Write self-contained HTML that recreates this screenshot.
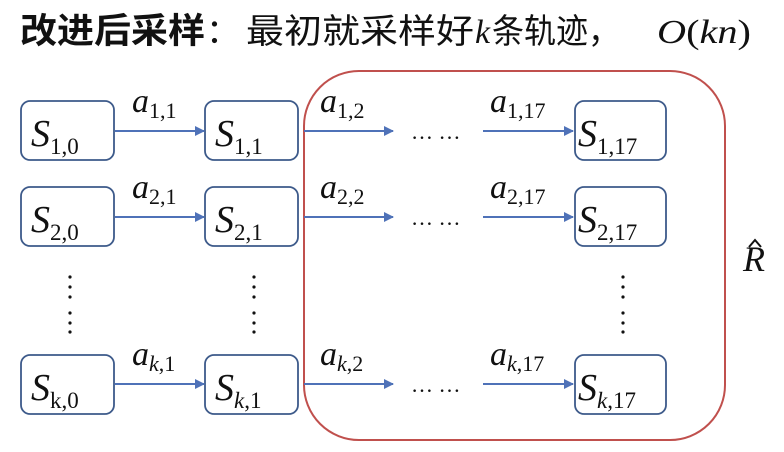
<!DOCTYPE html>
<html><head><meta charset="utf-8"><style>
html,body{margin:0;padding:0;background:#fff;width:784px;height:452px;overflow:hidden}
svg text{font-family:"Liberation Serif","Noto Serif CJK SC",serif}
.cj{font-family:"Liberation Sans","Noto Sans CJK SC",sans-serif}
</style></head><body>
<svg width="784" height="452" viewBox="0 0 784 452" xmlns="http://www.w3.org/2000/svg">
<defs><marker id="ar" markerWidth="10" markerHeight="10" refX="9" refY="5" orient="auto" markerUnits="userSpaceOnUse"><path d="M0,0 L10,5 L0,10 z" fill="#4f72b8"/></marker></defs>
<text class="cj" x="20" y="43" font-size="35" font-weight="bold" fill="#111" textLength="185" lengthAdjust="spacingAndGlyphs">改进后采样</text>
<text class="cj" x="206" y="43" font-size="34" fill="#111">：</text>
<text class="cj" x="246" y="43" font-size="34" fill="#111" textLength="228" lengthAdjust="spacingAndGlyphs">最初就采样好</text>
<text x="475" y="43" font-size="34" font-style="italic" fill="#111">k</text>
<text class="cj" x="492" y="43" font-size="34" fill="#111" textLength="128" lengthAdjust="spacingAndGlyphs">条轨迹，</text>
<text x="657" y="43" font-size="34" font-style="italic" fill="#111" textLength="94" lengthAdjust="spacingAndGlyphs">O<tspan font-style="normal">(</tspan>kn<tspan font-style="normal">)</tspan></text>
<rect x="304" y="71" width="421" height="369" rx="55" fill="none" stroke="#c0504d" stroke-width="2"/>
<g fill="none" stroke="#3d5a8a" stroke-width="1.8">
<rect x="21" y="101" width="93" height="59" rx="9"/><rect x="205" y="101" width="93" height="59" rx="9"/><rect x="575" y="101" width="91" height="59" rx="9"/>
<rect x="21" y="187" width="93" height="59" rx="9"/><rect x="205" y="187" width="93" height="59" rx="9"/><rect x="575" y="187" width="91" height="59" rx="9"/>
<rect x="21" y="355" width="93" height="59" rx="9"/><rect x="205" y="355" width="93" height="59" rx="9"/><rect x="575" y="355" width="91" height="59" rx="9"/>
</g>
<g stroke="#4f72b8" stroke-width="2" marker-end="url(#ar)">
<line x1="115" y1="131" x2="204" y2="131"/><line x1="304" y1="131" x2="393" y2="131"/><line x1="483" y1="131" x2="573" y2="131"/>
<line x1="115" y1="217" x2="204" y2="217"/><line x1="304" y1="217" x2="393" y2="217"/><line x1="483" y1="217" x2="573" y2="217"/>
<line x1="115" y1="384" x2="204" y2="384"/><line x1="304" y1="384" x2="393" y2="384"/><line x1="483" y1="384" x2="573" y2="384"/>
</g>
<g font-size="38" font-style="italic" fill="#111">
<text x="31" y="146">S<tspan font-size="23" font-style="normal" dy="8">1,0</tspan></text>
<text x="215" y="146">S<tspan font-size="23" font-style="normal" dy="8">1,1</tspan></text>
<text x="578" y="146">S<tspan font-size="23" font-style="normal" dy="8">1,17</tspan></text>
<text x="31" y="232">S<tspan font-size="23" font-style="normal" dy="8">2,0</tspan></text>
<text x="215" y="232">S<tspan font-size="23" font-style="normal" dy="8">2,1</tspan></text>
<text x="578" y="232">S<tspan font-size="23" font-style="normal" dy="8">2,17</tspan></text>
<text x="31" y="400">S<tspan font-size="23" font-style="normal" dy="8">k,0</tspan></text>
<text x="215" y="400">S<tspan font-size="23" dy="8">k</tspan><tspan font-size="23" font-style="normal">,1</tspan></text>
<text x="578" y="400">S<tspan font-size="23" dy="8">k</tspan><tspan font-size="23" font-style="normal">,17</tspan></text>
</g>
<g font-size="34" font-style="italic" fill="#111">
<text x="132" y="112">a<tspan font-size="22" font-style="normal" dy="6">1,1</tspan></text>
<text x="320" y="112">a<tspan font-size="22" font-style="normal" dy="6">1,2</tspan></text>
<text x="490" y="112">a<tspan font-size="22" font-style="normal" dy="6">1,17</tspan></text>
<text x="132" y="198">a<tspan font-size="22" font-style="normal" dy="6">2,1</tspan></text>
<text x="320" y="198">a<tspan font-size="22" font-style="normal" dy="6">2,2</tspan></text>
<text x="490" y="198">a<tspan font-size="22" font-style="normal" dy="6">2,17</tspan></text>
<text x="132" y="365">a<tspan font-size="22" dy="6">k</tspan><tspan font-size="22" font-style="normal">,1</tspan></text>
<text x="320" y="365">a<tspan font-size="22" dy="6">k</tspan><tspan font-size="22" font-style="normal">,2</tspan></text>
<text x="490" y="365">a<tspan font-size="22" dy="6">k</tspan><tspan font-size="22" font-style="normal">,17</tspan></text>
</g>
<g font-size="22" fill="#111">
<text x="411" y="139">… …</text><text x="411" y="225">… …</text><text x="411" y="392">… …</text>
</g>
<g fill="#111">
<circle cx="70" cy="277" r="1.6"/><circle cx="70" cy="287" r="1.6"/><circle cx="70" cy="297" r="1.6"/>
<circle cx="70" cy="313" r="1.6"/><circle cx="70" cy="323" r="1.6"/><circle cx="70" cy="332" r="1.6"/>
<circle cx="254" cy="277" r="1.6"/><circle cx="254" cy="287" r="1.6"/><circle cx="254" cy="297" r="1.6"/>
<circle cx="254" cy="313" r="1.6"/><circle cx="254" cy="323" r="1.6"/><circle cx="254" cy="332" r="1.6"/>
<circle cx="623" cy="277" r="1.6"/><circle cx="623" cy="287" r="1.6"/><circle cx="623" cy="297" r="1.6"/>
<circle cx="623" cy="313" r="1.6"/><circle cx="623" cy="323" r="1.6"/><circle cx="623" cy="332" r="1.6"/>
</g>
<text x="743" y="271" font-size="36" font-style="italic" fill="#111">R</text>
<path d="M749,247 L755,240 L761,247" fill="none" stroke="#111" stroke-width="2"/>
</svg>
</body></html>
